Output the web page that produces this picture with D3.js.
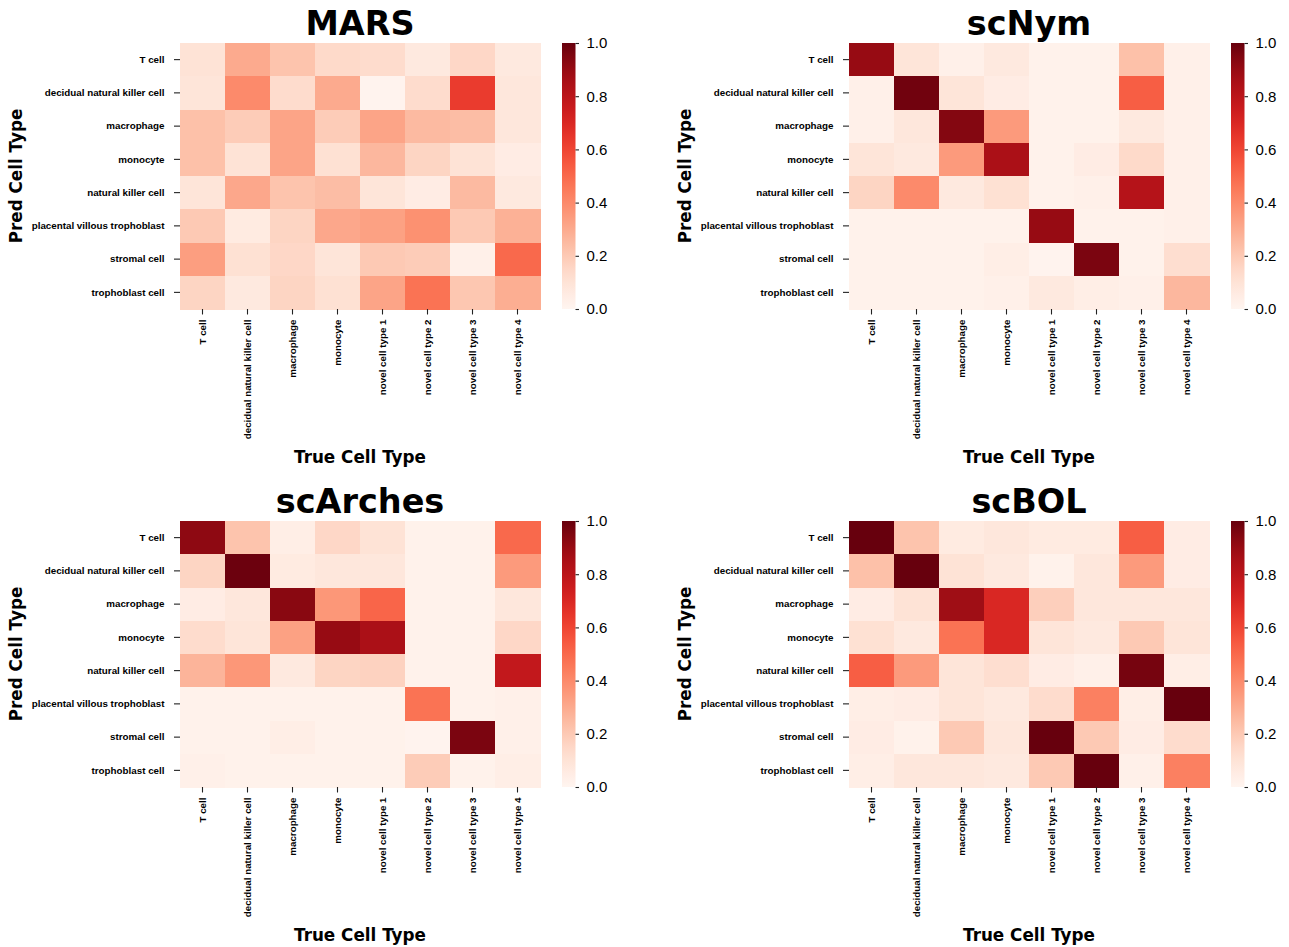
<!DOCTYPE html>
<html>
<head>
<meta charset="utf-8">
<script src="https://cdn.jsdelivr.net/npm/d3@7"></script>
<style>
  body { margin: 0; background: #fff; }
  svg { font-family: "DejaVu Sans", sans-serif; }
  .tick-lab text { font-size: 9.8px; font-weight: bold; fill: #000; }
  .cbar text { font-size: 15px; fill: #000; }
</style>
</head>
<body>
<div id="chart"></div>
<script>
const trueTypes = ["T cell", "decidual natural killer cell", "macrophage", "monocyte",
  "novel cell type 1", "novel cell type 2", "novel cell type 3", "novel cell type 4"];
const predTypes = ["T cell", "decidual natural killer cell", "macrophage", "monocyte",
  "natural killer cell", "placental villous trophoblast", "stromal cell", "trophoblast cell"];

const methodNames = ["MARS", "scNym", "scArches", "scBOL"];

// rows = predicted type, columns = true type
const marsValues = [
  [0.10, 0.30, 0.22, 0.14, 0.13, 0.07, 0.15, 0.07],
  [0.09, 0.40, 0.13, 0.30, 0.01, 0.13, 0.63, 0.08],
  [0.23, 0.19, 0.32, 0.19, 0.32, 0.25, 0.24, 0.08],
  [0.23, 0.10, 0.32, 0.11, 0.26, 0.16, 0.10, 0.05],
  [0.09, 0.31, 0.22, 0.24, 0.09, 0.05, 0.25, 0.07],
  [0.20, 0.06, 0.16, 0.31, 0.33, 0.38, 0.20, 0.28],
  [0.34, 0.11, 0.15, 0.09, 0.20, 0.19, 0.03, 0.50],
  [0.16, 0.07, 0.16, 0.11, 0.32, 0.47, 0.21, 0.29]
];
const scnymValues = [
  [0.90, 0.09, 0.03, 0.07, 0.02, 0.02, 0.23, 0.03],
  [0.03, 0.98, 0.09, 0.05, 0.02, 0.02, 0.53, 0.03],
  [0.03, 0.08, 0.94, 0.35, 0.02, 0.02, 0.07, 0.03],
  [0.09, 0.07, 0.35, 0.85, 0.02, 0.05, 0.14, 0.03],
  [0.16, 0.40, 0.07, 0.11, 0.02, 0.03, 0.82, 0.03],
  [0.02, 0.02, 0.02, 0.02, 0.90, 0.02, 0.02, 0.03],
  [0.02, 0.02, 0.02, 0.04, 0.01, 0.96, 0.02, 0.12],
  [0.02, 0.02, 0.02, 0.03, 0.07, 0.04, 0.03, 0.26]
];
const scarchesValues = [
  [0.92, 0.22, 0.04, 0.15, 0.10, 0.02, 0.02, 0.50],
  [0.16, 0.99, 0.06, 0.08, 0.08, 0.02, 0.02, 0.35],
  [0.05, 0.08, 0.93, 0.36, 0.51, 0.02, 0.02, 0.08],
  [0.13, 0.09, 0.33, 0.90, 0.85, 0.02, 0.02, 0.15],
  [0.27, 0.36, 0.07, 0.16, 0.17, 0.02, 0.02, 0.78],
  [0.02, 0.02, 0.02, 0.02, 0.02, 0.47, 0.02, 0.03],
  [0.02, 0.02, 0.04, 0.02, 0.02, 0.01, 0.96, 0.03],
  [0.03, 0.02, 0.02, 0.02, 0.02, 0.19, 0.02, 0.04]
];
const scbolValues = [
  [1.00, 0.22, 0.06, 0.08, 0.06, 0.06, 0.53, 0.05],
  [0.23, 1.00, 0.10, 0.07, 0.02, 0.08, 0.35, 0.05],
  [0.05, 0.10, 0.88, 0.70, 0.18, 0.08, 0.08, 0.08],
  [0.11, 0.07, 0.47, 0.70, 0.09, 0.07, 0.20, 0.09],
  [0.53, 0.35, 0.09, 0.12, 0.05, 0.03, 0.97, 0.04],
  [0.04, 0.05, 0.09, 0.07, 0.13, 0.43, 0.04, 1.00],
  [0.05, 0.02, 0.20, 0.08, 1.00, 0.20, 0.05, 0.13],
  [0.04, 0.08, 0.08, 0.07, 0.20, 1.00, 0.03, 0.43]
];
const colorbarTicks = [0, 0.2, 0.4, 0.6, 0.8, 1.0];

const panels = [
  { name: methodNames[0], values: marsValues, x0: 180, y0: 43, labelX: 22 },
  { name: methodNames[1], values: scnymValues, x0: 849, y0: 43, labelX: 691 },
  { name: methodNames[2], values: scarchesValues, x0: 180, y0: 521, labelX: 22 },
  { name: methodNames[3], values: scbolValues, x0: 849, y0: 521, labelX: 691 }
];

const W = 1289, H = 947;
const hmW = 360, hmH = 266;

const svg = d3.select("#chart").append("svg")
  .attr("width", W)
  .attr("height", H);

const color = d3.scaleSequential(d3.interpolateReds).domain([0, 1]);

// shared gradient for the colorbars
const grad = svg.append("defs").append("linearGradient")
  .attr("id", "reds-grad")
  .attr("x1", "0").attr("y1", "1").attr("x2", "0").attr("y2", "0");
d3.range(0, 1.0001, 0.05).forEach(t => {
  grad.append("stop").attr("offset", t).attr("stop-color", color(t));
});

panels.forEach(p => {
  const g = svg.append("g").attr("transform", `translate(${p.x0},${p.y0})`);

  const x = d3.scaleBand().domain(trueTypes).range([0, hmW]);
  const y = d3.scaleBand().domain(predTypes).range([0, hmH]);

  const cells = [];
  p.values.forEach((row, i) => {
    row.forEach((v, j) => cells.push({ pred: predTypes[i], tru: trueTypes[j], v: v }));
  });

  g.append("g")
    .selectAll("rect")
    .data(cells)
    .enter()
    .append("rect")
    .attr("x", d => x(d.tru))
    .attr("y", d => y(d.pred))
    .attr("width", x.bandwidth() + 0.5)
    .attr("height", y.bandwidth() + 0.5)
    .attr("fill", d => color(d.v))
    .attr("shape-rendering", "crispEdges");

  // x axis
  const xAxis = g.append("g")
    .attr("class", "tick-lab")
    .attr("transform", `translate(0,${hmH})`)
    .call(d3.axisBottom(x).tickSize(5.5).tickPadding(5));
  xAxis.select(".domain").remove();
  xAxis.selectAll("line").attr("stroke", "#222").attr("stroke-width", 1.1);
  xAxis.selectAll("text")
    .attr("transform", "rotate(-90)")
    .attr("x", -10.5)
    .attr("y", 0)
    .attr("dy", "0.34em")
    .style("text-anchor", "end");

  // y axis
  const yAxis = g.append("g")
    .attr("class", "tick-lab")
    .call(d3.axisLeft(y).tickSize(6).tickPadding(9.5));
  yAxis.select(".domain").remove();
  yAxis.selectAll("line").attr("stroke", "#222").attr("stroke-width", 1.1);

  // title
  g.append("text")
    .attr("x", hmW / 2)
    .attr("y", -8)
    .attr("text-anchor", "middle")
    .style("font-size", "33.5px")
    .style("font-weight", "bold")
    .text(p.name);

  g.append("text")
    .attr("x", hmW / 2)
    .attr("y", hmH + 154)
    .attr("text-anchor", "middle")
    .style("font-size", "16.8px")
    .style("font-weight", "bold")
    .text("True Cell Type");

  g.append("text")
    .attr("transform", `translate(${p.labelX - p.x0},${hmH / 2}) rotate(-90)`)
    .attr("text-anchor", "middle")
    .style("font-size", "16.8px")
    .style("font-weight", "bold")
    .text("Pred Cell Type");

  // colorbar
  const cb = g.append("g").attr("transform", "translate(382,0)");
  cb.append("rect")
    .attr("width", 13.5)
    .attr("height", hmH)
    .attr("fill", "url(#reds-grad)");
  const cScale = d3.scaleLinear().domain([0, 1]).range([hmH, 0]);
  const cAxis = cb.append("g")
    .attr("class", "cbar")
    .attr("transform", "translate(13.5,0)")
    .call(d3.axisRight(cScale).tickValues(colorbarTicks).tickFormat(d3.format(".1f")).tickSize(3.5).tickPadding(7.5));
  cAxis.select(".domain").remove();
  cAxis.selectAll("line").attr("stroke", "#222").attr("stroke-width", 1.1);
});
</script>
</body>
</html>
